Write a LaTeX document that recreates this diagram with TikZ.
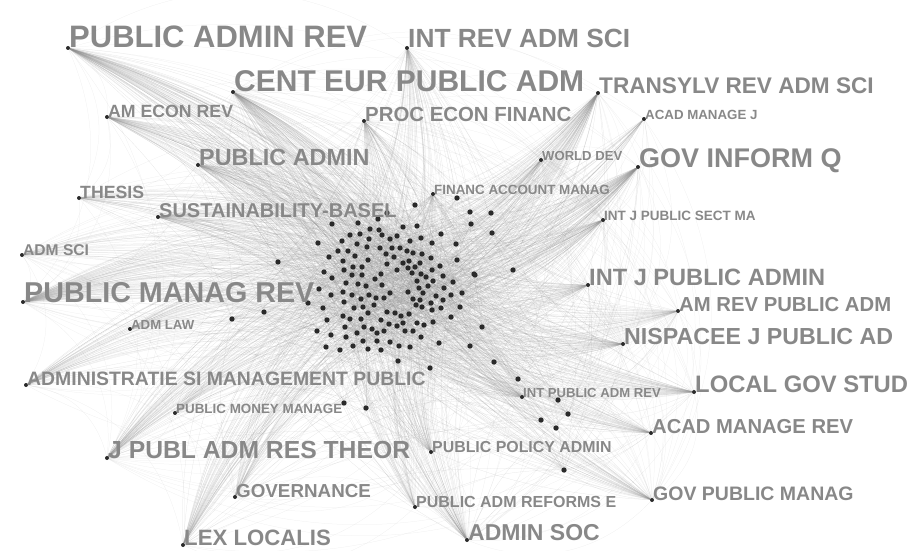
\documentclass[tikz,border=0pt]{standalone}
\usepackage{fontspec}
\setmainfont{Liberation Sans}
\usepackage{tikz}
\usetikzlibrary{backgrounds}

\definecolor{labelgray}{HTML}{888888}
\definecolor{dotblack}{HTML}{2A2A2A}

\begin{document}
\begin{tikzpicture}[
            x=1pt, y=-1pt,
            dot node/.style={circle,fill=dotblack,draw=none,inner sep=0pt,minimum size=5.4pt},
            journal node/.style={circle,fill=dotblack,draw=none,inner sep=0pt,minimum size=4pt},
            journal/.style={font=\fontsize{#1}{#1}\selectfont\bfseries,text=labelgray,anchor=base west,inner sep=0pt,xshift=1pt},
            link/.style={draw=black!45,line width=0.25pt,opacity=0.22},
            arc link/.style={draw=black!40,line width=0.25pt,opacity=0.16},
            ]
            \useasboundingbox (0,0) rectangle (915,551);

            \foreach \x/\y [count=\i] in {
                415/205,457/198,470/212,491/213,471/224,492/233,387/213,378/219,358/223,332/224,
                370/229,379/230,417/226,403/227,350/235,360/234,382/235,397/236,390/239,410/241,421/238,441/234,
                318/243,342/241,357/244,369/239,432/243,456/244,
                338/251,348/251,367/247,380/248,392/248,400/248,407/251,413/253,422/254,
                329/257,343/261,355/256,368/260,386/254,394/257,403/263,409/261,420/263,431/258,457/260,
                344/270,353/267,362/267,387/264,397/270,408/268,415/267,432/270,440/266,513/270,
                324/272,352/275,362/275,381/274,412/273,421/274,426/277,443/276,474/274,
                332/278,375/279,417/281,433/281,453/282,
                346/283,358/284,366/286,382/285,428/286,419/288,444/288,
                319/289,343/292,352/295,361/299,369/295,376/298,384/298,390/293,408/292,423/293,436/296,451/295,462/293,
                331/295,344/302,413/299,420/300,431/303,443/300,
                323/308,354/308,363/307,374/305,387/312,395/313,401/316,409/314,416/305,422/307,432/310,441/308,460/307,
                368/313,343/316,327/320,350/319,361/319,381/320,389/324,397/326,403/323,417/323,424/325,433/322,451/317,
                317/331,345/327,364/327,372/329,384/331,405/331,413/331,482/327,
                331/335,346/337,357/333,377/333,421/337,
                363/341,377/341,390/342,399/346,410/347,439/343,470/346,
                326/347,340/350,353/346,368/349,381/350,
                398/361,430/368,494/362,518/379,308/303,
                264/312,232/319,344/403,366/408,278/262,
                475/275,558/400,568/414,541/420,556/428,564/470}
                {\node[dot node] (c\i) at (\x,\y) {}; \xdef\ndots{\i}}

            \node[journal node] (par) at (68,48) {};
            \node[journal node] (irads) at (407,48) {};
            \node[journal node] (ceupa) at (233,92) {};
            \node[journal node] (trads) at (598,93) {};
            \node[journal node] (aer) at (107,117) {};
            \node[journal node] (pef) at (364,121) {};
            \node[journal node] (amj) at (644,119) {};
            \node[journal node] (pa) at (198,165) {};
            \node[journal node] (wd) at (541,160) {};
            \node[journal node] (giq) at (638,167) {};
            \node[journal node] (thesis) at (79,198) {};
            \node[journal node] (fam) at (433,194) {};
            \node[journal node] (sust) at (158,217) {};
            \node[journal node] (ijpsm) at (603,220) {};
            \node[journal node] (admsci) at (22,255) {};
            \node[journal node] (ijpa) at (588,285) {};
            \node[journal node] (pmr) at (23,302) {};
            \node[journal node] (arpa) at (678,311) {};
            \node[journal node] (admlaw) at (130,329) {};
            \node[journal node] (nisp) at (623,344) {};
            \node[journal node] (asmp) at (26,385) {};
            \node[journal node] (lgs) at (694,392) {};
            \node[journal node] (ipar) at (522,397) {};
            \node[journal node] (pmm) at (175,413) {};
            \node[journal node] (amr) at (651,433) {};
            \node[journal node] (jpart) at (107,458) {};
            \node[journal node] (ppa) at (431,452) {};
            \node[journal node] (gov) at (235,497) {};
            \node[journal node] (gpm) at (652,500) {};
            \node[journal node] (pare) at (415,507) {};
            \node[journal node] (lex) at (183,545) {};
            \node[journal node] (adsoc) at (467,540) {};

            \node[journal=31] (par-t) at (par) {PUBLIC ADMIN REV};
            \node[journal=26.3] (irads-t) at (irads) {INT REV ADM SCI};
            \node[journal=30] (ceupa-t) at (ceupa) {CENT EUR PUBLIC ADM};
            \node[journal=22.6] (trads-t) at (trads) {TRANSYLV REV ADM SCI};
            \node[journal=17.7] (aer-t) at (aer) {AM ECON REV};
            \node[journal=20.4] (pef-t) at (pef) {PROC ECON FINANC};
            \node[journal=13.3] (amj-t) at (amj) {ACAD MANAGE J};
            \node[journal=23.4] (pa-t) at (pa) {PUBLIC ADMIN};
            \node[journal=13.1] (wd-t) at (wd) {WORLD DEV};
            \node[journal=27] (giq-t) at (giq) {GOV INFORM Q};
            \node[journal=17.7] (thesis-t) at (thesis) {THESIS};
            \node[journal=13.4] (fam-t) at (fam) {FINANC ACCOUNT MANAG};
            \node[journal=20] (sust-t) at (sust) {SUSTAINABILITY-BASEL};
            \node[journal=13.5] (ijpsm-t) at (ijpsm) {INT J PUBLIC SECT MA};
            \node[journal=15.6] (admsci-t) at (admsci) {ADM SCI};
            \node[journal=23.6] (ijpa-t) at (ijpa) {INT J PUBLIC ADMIN};
            \node[journal=28.7] (pmr-t) at (pmr) {PUBLIC MANAG REV};
            \node[journal=20.3] (arpa-t) at (arpa) {AM REV PUBLIC ADM};
            \node[journal=13.2] (admlaw-t) at (admlaw) {ADM LAW};
            \node[journal=23.2] (nisp-t) at (nisp) {NISPACEE J PUBLIC AD};
            \node[journal=19.4] (asmp-t) at (asmp) {ADMINISTRATIE SI MANAGEMENT PUBLIC};
            \node[journal=23.8] (lgs-t) at (lgs) {LOCAL GOV STUD};
            \node[journal=13.1] (ipar-t) at (ipar) {INT PUBLIC ADM REV};
            \node[journal=13.4] (pmm-t) at (pmm) {PUBLIC MONEY MANAGE};
            \node[journal=20.2] (amr-t) at (amr) {ACAD MANAGE REV};
            \node[journal=24.7] (jpart-t) at (jpart) {J PUBL ADM RES THEOR};
            \node[journal=15.9] (ppa-t) at (ppa) {PUBLIC POLICY ADMIN};
            \node[journal=18.8] (gov-t) at (gov) {GOVERNANCE};
            \node[journal=19.5] (gpm-t) at (gpm) {GOV PUBLIC MANAG};
            \node[journal=16] (pare-t) at (pare) {PUBLIC ADM REFORMS E};
            \node[journal=22.2] (lex-t) at (lex) {LEX LOCALIS};
            \node[journal=23] (adsoc-t) at (adsoc) {ADMIN SOC};

            \begin{scope}[on background layer]
                % journal fans into the core
                \foreach \j/\w [count=\k] in {par/2,irads/3,ceupa/2,trads/2,aer/3,pef/3,amj/7,pa/3,wd/6,giq/2,
                        thesis/5,fam/4,sust/3,ijpsm/3,admsci/6,ijpa/3,pmr/2,arpa/4,admlaw/7,nisp/3,asmp/4,
                        lgs/3,ipar/4,pmm/6,amr/4,jpart/3,ppa/4,gov/4,gpm/4,pare/5,lex/3,adsoc/3}
                    \foreach \i in {1,...,\ndots} {
                        \pgfmathtruncatemacro\r{mod(\i+\k*3,\w)}
                        \ifnum\r=0 \draw[link] (\j) to[bend left=14] (c\i); \fi
                    }
                % links inside the core
                \foreach \i in {1,...,\ndots} {
                    \pgfmathtruncatemacro\a{mod(\i*13,\ndots)+1}
                    \pgfmathtruncatemacro\b{mod(\i*29+5,\ndots)+1}
                    \draw[link] (c\i) -- (c\a);
                    \draw[link] (c\i) to[bend right=10] (c\b);
                }
                % arcs between journals
                \foreach \a [count=\ka] in {par,irads,ceupa,trads,aer,pef,amj,pa,wd,giq,thesis,fam,sust,ijpsm,admsci,ijpa,
                        pmr,arpa,admlaw,nisp,asmp,lgs,ipar,pmm,amr,jpart,ppa,gov,gpm,pare,lex,adsoc}
                    \foreach \b [count=\kb] in {par,irads,ceupa,trads,aer,pef,amj,pa,wd,giq,thesis,fam,sust,ijpsm,admsci,ijpa,
                            pmr,arpa,admlaw,nisp,asmp,lgs,ipar,pmm,amr,jpart,ppa,gov,gpm,pare,lex,adsoc} {
                        \pgfmathtruncatemacro\r{mod(\ka*\kb+\ka,3)}
                        \ifnum\ka<\kb \ifnum\r=0 \draw[arc link] (\a) to[bend left=34] (\b); \fi \fi
                    }
            \end{scope}
        \end{tikzpicture}
\end{document}
